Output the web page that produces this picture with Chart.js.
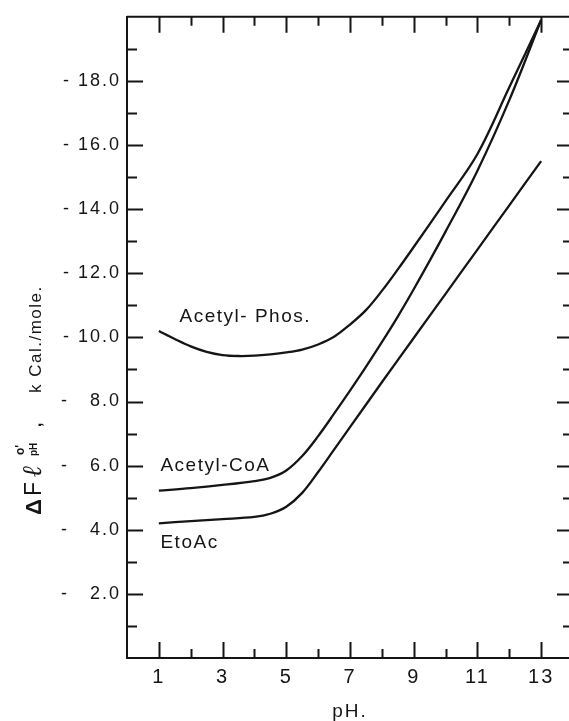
<!DOCTYPE html>
<html>
<head>
<meta charset="utf-8">
<title>Free energy of hydrolysis vs pH</title>
<script src="https://cdn.jsdelivr.net/npm/chart.js@4.4.0/dist/chart.umd.min.js"></script>
<style>
    html, body { margin: 0; padding: 0; background: #fff; overflow: hidden; }
    #wrap { width: 580px; height: 721px; }
</style>
</head>
<body>
<div id="wrap"><canvas id="chart" width="580" height="721"></canvas></div>
<script>
// ========== DATA ==========
const phosPH  = [1, 1.5, 2, 2.5, 3, 3.5, 4, 4.5, 5, 5.5, 6, 6.5, 7, 7.5, 8, 8.5, 9, 10, 11, 12, 13];
const phosVal = [10.2, 9.95, 9.72, 9.55, 9.45, 9.42, 9.43, 9.47, 9.53, 9.62, 9.78, 10.02, 10.4, 10.85, 11.45, 12.12, 12.82, 14.25, 15.72, 17.8, 19.9];

const coaPH  = [1, 2, 3, 4, 4.5, 5, 5.5, 6, 6.5, 7, 7.5, 8, 8.5, 9, 10, 11, 12, 13];
const coaVal = [5.22, 5.3, 5.4, 5.52, 5.62, 5.85, 6.3, 6.92, 7.62, 8.34, 9.08, 9.85, 10.65, 11.5, 13.3, 15.2, 17.4, 19.9];

const etoPH  = [1, 2, 3, 4, 4.5, 5, 5.5, 6, 6.5, 7, 8, 9, 10, 11, 12, 13];
const etoVal = [4.2, 4.27, 4.33, 4.4, 4.5, 4.72, 5.15, 5.8, 6.5, 7.2, 8.6, 9.98, 11.36, 12.74, 14.12, 15.5];

const seriesNames = ['Acetyl- Phos.', 'Acetyl-CoA', 'EtoAc'];
// where each curve's name sits, in data units (pH, kcal)
const labelAnchors = [[1.65, 10.64], [1.05, 6.0], [1.05, 3.6]];

const xTitle = 'pH.';
const yTitleMain = 'k Cal./mole.';

const ink = '#151515';

function toPoints(xs, ys) {
    return xs.map((x, i) => ({ x: x, y: ys[i] }));
}

function curve(xs, ys) {
    return {
        data: toPoints(xs, ys),
        borderColor: ink,
        borderWidth: 2.3,
        pointRadius: 0,
        tension: 0.35,
        fill: false
    };
}

// ========== PLUGIN: frame, inward ticks, labels ==========
const decorations = {
    id: 'decorations',
    beforeDraw(chart) {
        chart.ctx.letterSpacing = '2px';
    },
    afterDraw(chart) {
        const { ctx, chartArea: a, scales: { x, y } } = chart;
        ctx.save();
        ctx.strokeStyle = ink;
        ctx.lineWidth = 2;
        ctx.beginPath();
        ctx.moveTo(a.left, a.top);
        ctx.lineTo(a.right, a.top);
        ctx.lineTo(a.right, a.bottom);

        x.ticks.forEach(t => {
            if (t.value <= x.min || t.value >= x.max) return;
            const px = Math.round(x.getPixelForValue(t.value)) + 0.5;
            const len = t.value % 2 === 1 ? 16 : 9;
            ctx.moveTo(px, a.bottom);
            ctx.lineTo(px, a.bottom - len);
            ctx.moveTo(px, a.top);
            ctx.lineTo(px, a.top + len);
        });
        y.ticks.forEach(t => {
            if (t.value <= y.min || t.value >= y.max) return;
            const py = Math.round(y.getPixelForValue(t.value)) + 0.5;
            const len = t.value % 2 === 0 ? 16 : 10;
            ctx.moveTo(a.left, py);
            ctx.lineTo(a.left + len, py);
            ctx.moveTo(a.right, py);
            ctx.lineTo(a.right - len, py);
        });
        ctx.stroke();

        // curve names
        ctx.fillStyle = ink;
        ctx.font = '19px "Liberation Sans", Arial, sans-serif';
        ctx.letterSpacing = '1.5px';
        ctx.textBaseline = 'middle';
        ctx.textAlign = 'left';
        seriesNames.forEach((name, i) => {
            const [px, val] = labelAnchors[i];
            ctx.fillText(name, x.getPixelForValue(px), y.getPixelForValue(val));
        });

        // rotated y title: ΔF ℓ (o' / pH),   k Cal./mole.
        ctx.translate(41, 515);
        ctx.rotate(-Math.PI / 2);
        ctx.textBaseline = 'alphabetic';
        ctx.letterSpacing = '0px';
        ctx.font = 'bold 22px "Liberation Sans", Arial, sans-serif';
        ctx.fillText('\u0394', 0, 0);
        ctx.font = '23px "Liberation Sans", Arial, sans-serif';
        ctx.fillText('F', 19, 0);
        ctx.font = 'italic bold 27px "DejaVu Serif", serif';
        ctx.fillText('\u2113', 38, 0);
        ctx.font = 'bold 12px "Liberation Sans", Arial, sans-serif';
        ctx.fillText("o'", 60, -17);
        ctx.font = 'bold 10px "Liberation Sans", Arial, sans-serif';
        ctx.fillText('pH', 59, -4);
        ctx.font = 'bold 16px "Liberation Sans", Arial, sans-serif';
        ctx.fillText(',', 88, 0);
        ctx.font = '17px "Liberation Sans", Arial, sans-serif';
        ctx.letterSpacing = '1.5px';
        ctx.fillText(yTitleMain, 122, 0);
        ctx.restore();
    }
};

// ========== CHART ==========
new Chart(document.getElementById('chart'), {
    type: 'line',
    data: {
        datasets: [
            curve(phosPH, phosVal),
            curve(coaPH, coaVal),
            curve(etoPH, etoVal)
        ]
    },
    options: {
        responsive: false,
        animation: false,
        devicePixelRatio: 1,
        layout: { padding: { left: 0, right: 2, top: 15, bottom: 0 } },
        plugins: {
            legend: { display: false },
            tooltip: { enabled: false }
        },
        scales: {
            x: {
                type: 'linear',
                min: 0,
                max: 14,
                afterFit: (s) => { s.height = 63; },
                grid: { display: false, drawTicks: false },
                border: { display: true, color: ink, width: 2 },
                ticks: {
                    stepSize: 1,
                    autoSkip: false,
                    maxRotation: 0,
                    padding: 7,
                    color: ink,
                    font: { family: '"Liberation Sans", Arial, sans-serif', size: 20 },
                    callback: (v) => (v % 2 === 1 ? String(v) : '')
                },
                title: {
                    display: true,
                    text: xTitle,
                    color: ink,
                    padding: { top: 0, bottom: 0 },
                    font: { family: '"Liberation Sans", Arial, sans-serif', size: 19, lineHeight: 1 }
                }
            },
            y: {
                type: 'linear',
                min: 0,
                max: 20,
                afterFit: (s) => { s.width = 127; },
                grid: { display: false, drawTicks: false },
                border: { display: true, color: ink, width: 2 },
                ticks: {
                    stepSize: 1,
                    autoSkip: false,
                    padding: 6,
                    color: ink,
                    font: { family: '"Liberation Sans", Arial, sans-serif', size: 18 },
                    callback: (v) => {
                        if (v <= 0 || v >= 20 || v % 2 !== 0) return '';
                        return (v < 10 ? '-   ' : '- ') + v.toFixed(1);
                    }
                }
            }
        }
    },
    plugins: [decorations]
});
</script>
</body>
</html>
